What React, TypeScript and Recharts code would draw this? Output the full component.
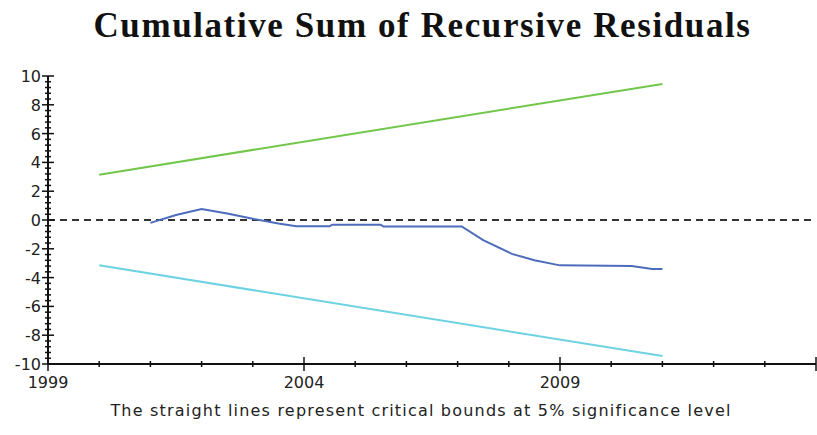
import React from "react";
import { LineChart, Line, XAxis, YAxis, ReferenceLine } from "recharts";

// CUSUM of recursive residuals (quarterly-ish readings)
const cusumYears = [
  2001, 2001.5, 2002, 2002.5, 2003, 2003.5, 2003.85, 2004.5, 2004.55, 2005.5,
  2005.55, 2007.08, 2007.5, 2008.06, 2008.5, 2009, 2010.4, 2010.6, 2010.8, 2011,
];
const cusumValues = [
  -0.2, 0.35, 0.76, 0.45, 0.08, -0.25, -0.44, -0.44, -0.33, -0.33,
  -0.45, -0.45, -1.4, -2.35, -2.8, -3.15, -3.2, -3.3, -3.4, -3.4,
];

// 5% critical bounds (straight lines)
const boundYears = [2000, 2011];
const upperBound = [3.15, 9.45];
const lowerBound = [-3.15, -9.45];

const yMajorTicks = [-10, -8, -6, -4, -2, 0, 2, 4, 6, 8, 10];
const xMajorTicks = [1999, 2004, 2009, 2014];
const xLabels = [1999, 2004, 2009];

// minor ticks: every 0.4 on y, every year on x
const yTicks: number[] = [];
for (let i = 0; i <= 50; i++) yTicks.push(Math.round((-10 + i * 0.4) * 10) / 10);
const xTicks: number[] = [];
for (let y = 1999; y <= 2014; y++) xTicks.push(y);

const cusumData = cusumYears.map((t, i) => ({ t, v: cusumValues[i] }));
const upperData = boundYears.map((t, i) => ({ t, v: upperBound[i] }));
const lowerData = boundYears.map((t, i) => ({ t, v: lowerBound[i] }));

const COLORS = {
  cusum: "#4e6cbc",
  upper: "#72c64a",
  lower: "#6dd2e2",
  axis: "#111",
};

const FONT = "'DejaVu Sans', Verdana, sans-serif";

function YTick(props: any) {
  const { x, y, payload } = props;
  const major = yMajorTicks.includes(payload.value);
  const w = major ? 6 : 3;
  return (
    <g>
      <line x1={x - w} x2={x + w} y1={y} y2={y} stroke={COLORS.axis} strokeWidth={1.5} />
      {major && (
        <text x={x - 7} y={y} dy={6} textAnchor="end" fontSize={16} fontFamily={FONT} fill="#222">
          {payload.value}
        </text>
      )}
    </g>
  );
}

function XTick(props: any) {
  const { x, y, payload } = props;
  const major = xMajorTicks.includes(payload.value);
  const h = major ? 7 : 3;
  return (
    <g>
      <line x1={x} x2={x} y1={y - h} y2={y + h} stroke={COLORS.axis} strokeWidth={1.5} />
      {xLabels.includes(payload.value) && (
        <text x={x} y={y + 24} textAnchor="middle" fontSize={16} fontFamily={FONT} fill="#222">
          {payload.value}
        </text>
      )}
    </g>
  );
}

export default function App() {
  return (
    <div style={{ position: "relative", width: 817, height: 435, background: "#fff" }}>
      <style>{"body{margin:0}"}</style>
      <div
        style={{
          position: "absolute",
          top: 6,
          left: 0,
          width: 845,
          textAlign: "center",
          fontFamily: "'Liberation Serif', 'Times New Roman', serif",
          fontWeight: "bold",
          fontSize: 35,
          letterSpacing: 1.6,
          color: "#111",
        }}
      >
        Cumulative Sum of Recursive Residuals
      </div>
      <LineChart
        width={817}
        height={435}
        margin={{ top: 76, right: 1, bottom: 41, left: 0 }}
      >
        <XAxis
          type="number"
          dataKey="t"
          domain={[1999, 2014]}
          ticks={xTicks}
          interval={0}
          allowDuplicatedCategory={false}
          tick={<XTick />}
          tickLine={false}
          tickSize={0}
          tickMargin={0}
          height={30}
          stroke={COLORS.axis}
          strokeWidth={2}
        />
        <YAxis
          type="number"
          domain={[-10, 10]}
          ticks={yTicks}
          interval={0}
          tick={<YTick />}
          tickLine={false}
          tickSize={0}
          tickMargin={0}
          width={48}
          stroke={COLORS.axis}
          strokeWidth={2}
        />
        <ReferenceLine y={0} stroke="#333" strokeWidth={2} strokeDasharray="7 5" />
        <Line data={upperData} dataKey="v" stroke={COLORS.upper} strokeWidth={2} dot={false} isAnimationActive={false} />
        <Line data={lowerData} dataKey="v" stroke={COLORS.lower} strokeWidth={2} dot={false} isAnimationActive={false} />
        <Line data={cusumData} dataKey="v" stroke={COLORS.cusum} strokeWidth={2} dot={false} isAnimationActive={false} />
      </LineChart>
      <div
        style={{
          position: "absolute",
          top: 401,
          left: 0,
          width: 842,
          textAlign: "center",
          fontFamily: FONT,
          fontSize: 16,
          letterSpacing: 1.2,
          color: "#222",
        }}
      >
        The straight lines represent critical bounds at 5% significance level
      </div>
    </div>
  );
}
